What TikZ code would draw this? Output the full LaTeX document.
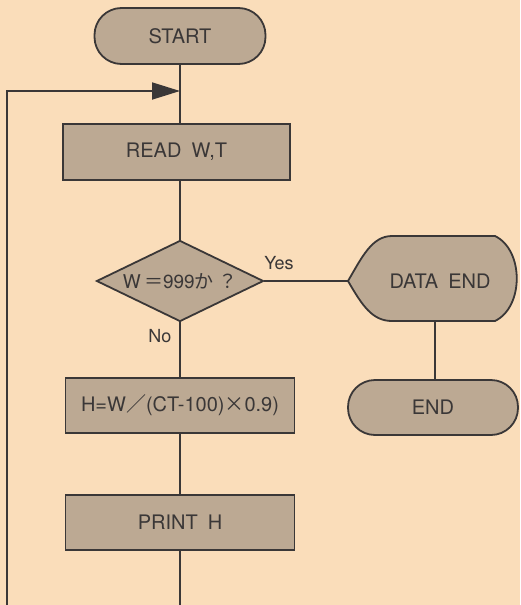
\documentclass[tikz,border=0pt]{standalone}
\usepackage{fontspec}
\setmainfont{TeX Gyre Heros}
\newfontfamily\jfont{Noto Sans CJK JP}
\usetikzlibrary{shapes.geometric,arrows.meta}
\definecolor{paper}{RGB}{250,221,186}
\definecolor{boxfill}{RGB}{188,169,147}
\definecolor{ink}{RGB}{58,55,55}
\tikzset{
	term/.style={draw, fill=boxfill, rounded corners=27pt, minimum width=171pt, minimum height=56pt, font=\fontsize{20}{24}\selectfont},
	proc/.style={draw, fill=boxfill, minimum width=229pt, minimum height=55pt, font=\fontsize{20}{24}\selectfont},
	decide/.style={diamond, aspect=2, draw, fill=boxfill, minimum width=167pt, minimum height=81pt, inner sep=0pt, font=\fontsize{19}{22}\selectfont},
	lbl/.style={font=\fontsize{18}{21}\selectfont}
}

\begin{document}
\begin{tikzpicture}[x=1pt, y=-1pt, line width=1.8pt, color=ink]
		%%%%% START %%%%%
		\fill[paper] (0,0) rectangle (520,605);
		\useasboundingbox (0,0) rectangle (520,605);
		
		\node[term] (start) at (180,36) {START};
		\node[proc, minimum width=227pt, minimum height=56pt] (read) at (176.5,152) {READ\enspace W,T};
		\node[decide] (test) at (180,281) {W\,{\jfont ＝}999{\jfont か ？}};
		\node[proc] (calc) at (180,405.5) {H=W{\jfont ／}(CT-100){\jfont ×}0.9)};
		\node[proc] (print) at (180,522.5) {PRINT\enspace H};
		\node[term, minimum width=170pt, minimum height=55pt] (end) at (433,407.5) {END};
		
		% data end (display shape)
		\draw[fill=boxfill] (348,281) .. controls (362,257) and (372,236) .. (392,236) -- (495,236)
			.. controls (524,250) and (524,307) .. (495,321) -- (392,321)
			.. controls (372,321) and (362,305) .. (348,281) -- cycle;
		\coordinate (dataend-w) at (348,281);
		\coordinate (dataend-s) at (435,321);
		\node[font=\fontsize{20}{24}\selectfont] (dataend) at (440,281) {DATA\enspace END};
		
		\node[lbl] (yes) at (279,263) {Yes};
		\node[lbl] (no) at (160,336) {No};
		
		\coordinate (merge) at (180,91);
		\coordinate (bot) at (180,605);
		\coordinate (left) at (7,605);
		
		\draw (start.south) -- (start.south |- read.north);
		\draw (test.north |- read.south) -- (test.north);
		\draw (test.east) -- (dataend-w);
		\draw (dataend-s) -- (dataend-s |- end.north);
		\draw (test.south) -- (test.south |- calc.north);
		\draw (calc.south) -- (print.north);
		\draw (print.south) -- (bot);
		\draw[-{Triangle[length=28pt,width=17pt]}] (left) |- (merge);
		%%%%% END %%%%%
	\end{tikzpicture}
\end{document}
